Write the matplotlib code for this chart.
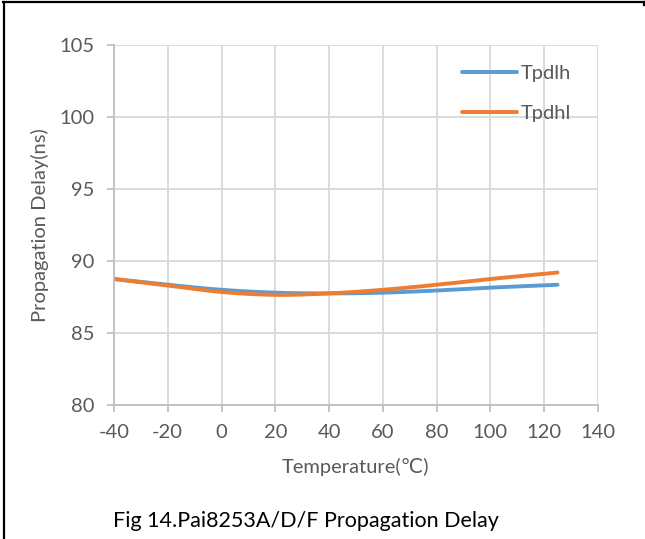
import numpy as np
import matplotlib
matplotlib.use("Agg")
import matplotlib.pyplot as plt
from matplotlib.lines import Line2D

plt.rcParams['font.family'] = ['Lato', 'DejaVu Sans']
plt.rcParams['axes.unicode_minus'] = False

# Propagation delay vs temperature
temps = [-40, -20, 0, 20, 40, 60, 80, 100, 125]
tpdlh = [88.75, 88.35, 88.0, 87.8, 87.75, 87.8, 87.95, 88.15, 88.35]
tpdhl = [88.75, 88.3, 87.85, 87.65, 87.75, 88.0, 88.35, 88.75, 89.2]

x_ticks = [-40, -20, 0, 20, 40, 60, 80, 100, 120, 140]
y_ticks = [80, 85, 90, 95, 100, 105]

GRID = "#d9d9d9"
TXT = "#595959"
FS = 14.5


def smooth(xs, ys, n=30):
    # Excel style smoothed line: cubic Bezier between points, Catmull-Rom controls
    xs = np.asarray(xs, float)
    ys = np.asarray(ys, float)
    px = np.concatenate([[xs[0]], xs, [xs[-1]]])
    py = np.concatenate([[ys[0]], ys, [ys[-1]]])
    out_x, out_y = [], []
    t = np.linspace(0, 1, n)
    for i in range(1, len(px) - 2):
        p0 = np.array([px[i], py[i]])
        p3 = np.array([px[i + 1], py[i + 1]])
        c1 = p0 + (np.array([px[i + 1], py[i + 1]]) - np.array([px[i - 1], py[i - 1]])) / 6
        c2 = p3 - (np.array([px[i + 2], py[i + 2]]) - np.array([px[i], py[i]])) / 6
        b = ((1 - t) ** 3)[:, None] * p0 + (3 * (1 - t) ** 2 * t)[:, None] * c1 \
            + (3 * (1 - t) * t ** 2)[:, None] * c2 + (t ** 3)[:, None] * p3
        out_x.extend(b[:, 0])
        out_y.extend(b[:, 1])
    return out_x, out_y


fig = plt.figure(figsize=(6.45, 5.39), dpi=100)
ax = fig.add_axes([0.1767, 0.2486, 0.927 - 0.1767, 0.9165 - 0.2486])

sx, sy = smooth(temps, tpdlh)
ax.plot(sx, sy, color="#5B9BD5", lw=2.8, label="Tpdlh", solid_capstyle="round")
sx, sy = smooth(temps, tpdhl)
ax.plot(sx, sy, color="#ED7D31", lw=2.8, label="Tpdhl", solid_capstyle="round")

ax.set_xlim(-40, 140)
ax.set_ylim(80, 105)
ax.set_xticks(x_ticks)
ax.set_yticks(y_ticks)
ax.grid(True, color=GRID, lw=1.3)
ax.set_axisbelow(True)
for s in ["top", "right"]:
    ax.spines[s].set_visible(False)
for s in ["left", "bottom"]:
    ax.spines[s].set_color("#bfbfbf")
    ax.spines[s].set_linewidth(1.3)
ax.tick_params(direction="out", length=5, width=1.3, color="#bfbfbf",
               labelsize=FS, labelcolor=TXT)
ax.tick_params(axis="y", pad=9)
ax.tick_params(axis="x", pad=9)

ax.set_xlabel("Temperature(℃)", fontsize=FS, color=TXT, labelpad=12)
ax.set_ylabel("Propagation Delay(ns)", fontsize=FS, color=TXT, labelpad=7.5)

leg = ax.legend(loc="upper left", bbox_to_anchor=(462 / 645, 1 - 65 / 539),
                bbox_transform=fig.transFigure, frameon=False, borderpad=0,
                borderaxespad=0, fontsize=FS, handlelength=2.75,
                handletextpad=0.15, labelspacing=1.15, labelcolor=TXT)

fig.text(113 / 645, 1 - 527 / 539, "Fig 14.Pai8253A/D/F Propagation Delay",
         fontsize=15.5, color="black", va="baseline", ha="left")

# frame lines on the left and top edge
fig.add_artist(Line2D([4 / 645, 4 / 645], [0, 1 - 2 / 539], color="black", lw=1.6))
fig.add_artist(Line2D([3 / 645, 644 / 645], [1 - 2 / 539, 1 - 2 / 539], color="black", lw=1.6))
fig.add_artist(Line2D([644 / 645, 644 / 645], [1 - 2 / 539, 1 - 5 / 539], color="black", lw=1.6))

fig.savefig("out.png", dpi=100)
